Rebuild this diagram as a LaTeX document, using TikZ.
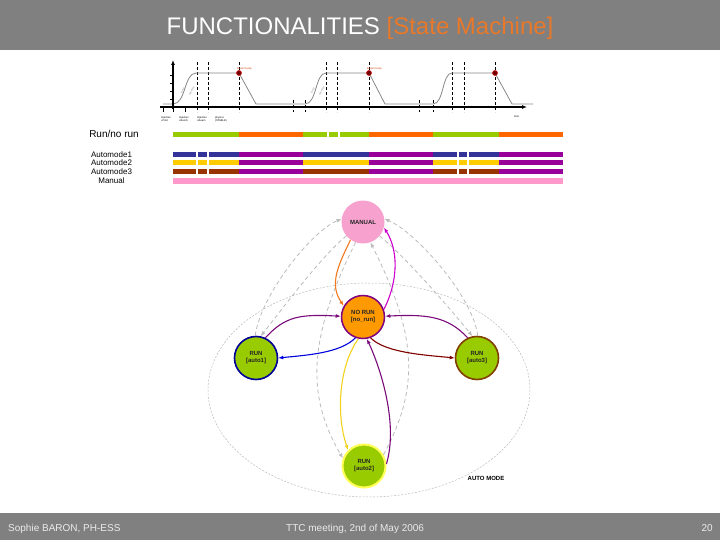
\documentclass[tikz,border=0pt]{standalone}
\usepackage{fontspec}
\setmainfont{Liberation Sans}
\usetikzlibrary{arrows.meta}
\definecolor{hdr}{HTML}{808080}
\definecolor{ttlorange}{HTML}{E8782A}
\definecolor{lime}{HTML}{99CC00}
\definecolor{runorange}{HTML}{FF6600}
\definecolor{navyb}{HTML}{333399}
\definecolor{purpb}{HTML}{990099}
\definecolor{goldb}{HTML}{FFCC00}
\definecolor{brownb}{HTML}{993300}
\definecolor{pinkb}{HTML}{FF99CC}
\definecolor{manpink}{HTML}{F7A1CF}
\definecolor{norunorange}{HTML}{FF9900}
\definecolor{norunpurple}{HTML}{800080}
\definecolor{auto1blue}{HTML}{000099}
\definecolor{auto3brown}{HTML}{804000}
\definecolor{auto2yellow}{HTML}{FFFF55}
\definecolor{runlime}{HTML}{99CC00}
\definecolor{corange}{HTML}{F07820}
\definecolor{cmagenta}{HTML}{CC00CC}
\definecolor{cpurple}{HTML}{7A0A7A}
\definecolor{cblue}{HTML}{0000DD}
\definecolor{cdarkred}{HTML}{800000}
\definecolor{cyellow}{HTML}{F2D21E}
\definecolor{grayline}{HTML}{BBBBBB}
\definecolor{curvegray}{HTML}{888888}
\definecolor{dumpred}{HTML}{CC3300}
\begin{document}
\begin{tikzpicture}[x=1pt,y=-1pt,
  state/.style={circle,minimum size=43pt,inner sep=0pt,align=center,
    font=\bfseries\fontsize{6}{7}\selectfont,text=black!85},
  conn/.style={line width=1.1pt,-{Latex[length=5pt,width=4pt]}},
  gconn/.style={draw=grayline,line width=0.8pt,dash pattern=on 4pt off 3pt,
    -{Latex[length=5pt,width=4pt]}},
  vdash/.style={black,line width=0.6pt,dash pattern=on 3pt off 2pt},
  tiny/.style={font=\fontsize{2.6}{3}\selectfont,inner sep=0pt,align=left},
  lbl/.style={font=\fontsize{8}{9}\selectfont,inner sep=0pt},
  dumpdot/.style={circle,fill=red!45!black,draw=red!80!black,line width=0.5pt,minimum size=5pt,inner sep=0pt}]
\useasboundingbox (0,0) rectangle (720,540);
% header and footer
\fill[hdr] (0,0) rectangle (720,50);
\fill[hdr] (0,513) rectangle (720,540);
\node[anchor=base,inner sep=0pt,font=\fontsize{24}{27}\selectfont] (title) at (360,35)
  {\textcolor{white}{FUNCTIONALITIES} \textcolor{ttlorange}{[State Machine]}};
\node[anchor=base west,inner sep=0pt,font=\fontsize{10}{12}\selectfont,text=white!92!black] (f1) at (8,531) {Sophie BARON, PH-ESS};
\node[anchor=base west,inner sep=0pt,font=\fontsize{10}{12}\selectfont,text=white!92!black] (f2) at (286,531) {TTC meeting, 2nd of May 2006};
\node[anchor=base east,inner sep=0pt,font=\fontsize{10}{12}\selectfont,text=white!92!black] (f3) at (713,531) {20};
% ---------- timing graph ----------
\draw[vdash] (197,62) -- (197,112);
\draw[vdash] (208,62) -- (208,112);
\draw[vdash] (239,62) -- (239,112);
\draw[vdash] (293,100) -- (293,112);
\draw[vdash] (305,100) -- (305,112);
\draw[vdash] (326,62) -- (326,112);
\draw[vdash] (337,62) -- (337,112);
\draw[vdash] (369,62) -- (369,112);
\draw[vdash] (419,100) -- (419,112);
\draw[vdash] (433,100) -- (433,112);
\draw[vdash] (452,62) -- (452,112);
\draw[vdash] (464,62) -- (464,112);
\draw[vdash] (495,62) -- (495,112);
\draw[curvegray,line width=0.8pt] (163,104) -- (173,104)
  .. controls (186,104) and (184,73) .. (196,73) -- (239,73) -- (256,104) -- (305,104)
  .. controls (317,104) and (315,73) .. (326,73) -- (369,73) -- (385,104) -- (433,104)
  .. controls (444,104) and (442,73) .. (452,73) -- (495,73) -- (512,104) -- (533,104);
\draw[black,line width=1.4pt,-{Latex[length=5pt,width=4pt]}] (160,107) -- (527,107);
\draw[black,line width=1.4pt,-{Latex[length=5pt,width=4pt]}] (173,109) -- (173,60);
\foreach \t in {163,173,185} \draw[black,line width=0.6pt] (\t,107) -- (\t,112);
\foreach \t in {75,83,91,99} \draw[black,line width=0.5pt] (170,\t) -- (173,\t);
\node[dumpdot] (d1) at (239,73) {};
\node[dumpdot] (d2) at (369,73) {};
\node[dumpdot] (d3) at (495,73) {};
\node[tiny,anchor=south west,text=dumpred] (bd1) at (237,70) {Beam Dump};
\node[tiny,anchor=south west,text=dumpred] (bd2) at (367,70) {Beam Dump};
\node[tiny,anchor=west] (tm) at (514,117) {time};
\node[tiny,anchor=north west] (l1) at (161,116) {Injection\\+Pilot};
\node[tiny,anchor=north west] (l2) at (179,116) {Injection\\+Bunch};
\node[tiny,anchor=north west] (l3) at (197,116) {Injection\\+Beam};
\node[tiny,anchor=north west] (l4) at (215,116) {physics\\(STABLE)};
\node[tiny,rotate=62,text=curvegray] (r1a) at (183,91) {ramp};
\node[tiny,rotate=62,text=curvegray] (r1b) at (192,91) {squeeze};
\node[tiny,rotate=62,text=curvegray] (r2a) at (313,91) {ramp};
\node[tiny,rotate=62,text=curvegray] (r2b) at (322,91) {squeeze};
% ---------- bars ----------
\node[lbl,font=\fontsize{10}{11}\selectfont] (lrun) at (114,134) {Run/no run};
\node[lbl] (la1) at (111.5,154.5) {Automode1};
\node[lbl] (la2) at (111.5,163) {Automode2};
\node[lbl] (la3) at (111.5,172) {Automode3};
\node[lbl] (lman) at (111.5,181) {Manual};
% run/no run
\fill[lime] (173,132) rectangle (239,137);
\fill[runorange] (239,132) rectangle (303,137);
\fill[lime] (303,132) rectangle (369,137);
\fill[runorange] (369,132) rectangle (433,137);
\fill[lime] (433,132) rectangle (499,137);
\fill[runorange] (499,132) rectangle (563,137);
\foreach \g in {328,339} \fill[white] (\g-0.7,132) rectangle (\g+0.7,137);
% automode rows
\foreach \ya/\yb/\c in {152/157/navyb,160.5/165.5/goldb,169/174/brownb}{
  \fill[\c] (173,\ya) rectangle (239,\yb);
  \fill[purpb] (239,\ya) rectangle (303,\yb);
  \fill[\c] (303,\ya) rectangle (369,\yb);
  \fill[purpb] (369,\ya) rectangle (433,\yb);
  \fill[\c] (433,\ya) rectangle (499,\yb);
  \fill[purpb] (499,\ya) rectangle (563,\yb);
  \foreach \g in {197,208,458,468} \fill[white] (\g-0.7,\ya) rectangle (\g+0.7,\yb);
}
\fill[pinkb] (173,178) rectangle (563,184);
% ---------- state machine ----------
\draw[gray!55,line width=0.5pt,dash pattern=on 2pt off 1.5pt] (369,390) ellipse [x radius=161,y radius=107];
\node[inner sep=0pt,font=\bfseries\fontsize{6}{7}\selectfont] (am) at (486,478) {AUTO MODE};
\node[state,fill=manpink] (man) at (363,222) {MANUAL};
\node[state,fill=norunorange,draw=norunpurple,line width=1.5pt] (norun) at (363,317) {NO RUN\\{}[no\_run]};
\node[state,fill=runlime,draw=auto1blue,line width=1.6pt] (auto1) at (256,358) {RUN\\{}[auto1]};
\node[state,fill=runlime,draw=auto3brown,line width=1.6pt] (auto3) at (477,358) {RUN\\{}[auto3]};
\node[state,fill=runlime,draw=auto2yellow,line width=2pt] (auto2) at (364,466) {RUN\\{}[auto2]};
% gray dashed transitions
\draw[gconn] (auto1.92) .. controls +(5,-40) and +(-30,12) .. (man.172);
\draw[gconn] (man.220) .. controls +(-25,20) and +(20,-25) .. (auto1.78);
\draw[gconn] (auto3.88) .. controls +(-5,-40) and +(30,12) .. (man.8);
\draw[gconn] (man.320) .. controls +(25,20) and +(-20,-25) .. (auto3.102);
\draw[gconn] (man.250) .. controls +(-50,100) and +(-35,-60) .. (auto2.160);
\draw[gconn] (auto2.30) .. controls +(38,-70) and +(45,90) .. (man.290);
% coloured transitions
\draw[conn,draw=corange] (man.235) .. controls +(-12,25) and +(-15,-22) .. (norun.150);
\draw[conn,draw=cmagenta] (norun.20) .. controls +(15,-30) and +(14,22) .. (man.-15);
\draw[conn,draw=cpurple] (auto1.65) .. controls +(20,-22) and +(-40,-2) .. (norun.178);
\draw[conn,draw=cblue] (norun.250) .. controls +(-15,15) and +(30,-3) .. (auto1.0);
\draw[conn,draw=cpurple] (auto3.115) .. controls +(-20,-22) and +(40,-2) .. (norun.2);
\draw[conn,draw=cdarkred] (norun.290) .. controls +(15,15) and +(-30,-3) .. (auto3.180);
\draw[conn,draw=cyellow] (norun.258) .. controls +(-20,28) and +(-12,-35) .. (auto2.135);
\draw[conn,draw=cpurple] (auto2.5) .. controls +(12,-40) and +(14,30) .. (norun.280);
\end{tikzpicture}
\end{document}
